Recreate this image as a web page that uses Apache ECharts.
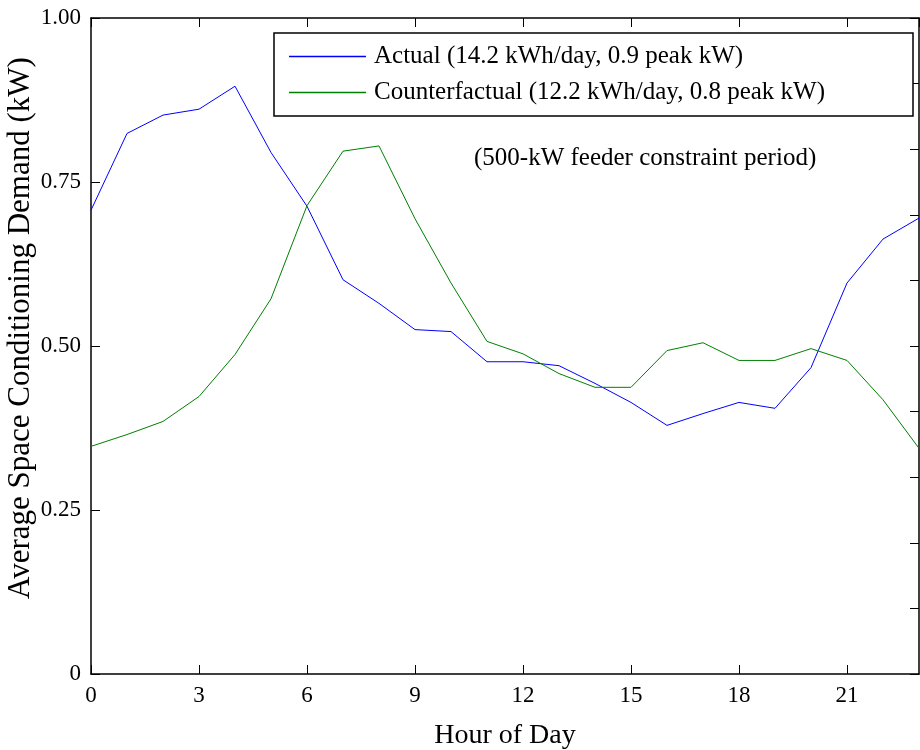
<!DOCTYPE html>
<html>
<head>
<meta charset="utf-8">
<script src="https://cdn.jsdelivr.net/npm/echarts@6/dist/echarts.min.js"></script>
<style>
html,body{margin:0;padding:0;background:#fff;}
#chart{width:920px;height:750px;}
</style>
</head>
<body>
<div id="chart"></div>
<script>
// ---- data ----
var hours = [0,1,2,3,4,5,6,7,8,9,10,11,12,13,14,15,16,17,18,19,20,21,22,23];
var actual = [0.707,0.824,0.852,0.861,0.896,0.795,0.713,0.601,0.565,0.525,0.522,0.476,0.476,0.470,0.443,0.414,0.379,0.397,0.414,0.405,0.467,0.596,0.663,0.695];
var counterfactual = [0.347,0.365,0.385,0.423,0.487,0.572,0.714,0.797,0.805,0.694,0.596,0.507,0.488,0.458,0.437,0.437,0.493,0.505,0.478,0.478,0.496,0.478,0.418,0.344];
var seriesNames = ['Actual (14.2 kWh/day, 0.9 peak kW)', 'Counterfactual (12.2 kWh/day, 0.8 peak kW)'];
var xTickLabels = ['0','3','6','9','12','15','18','21'];
var yTickLabels = ['0','0.25','0.50','0.75','1.00'];
var annotation = '(500-kW feeder constraint period)';
var xTitle = 'Hour of Day';
var yTitle = 'Average Space Conditioning Demand (kW)';

var FONT = 'Liberation Serif';
var chart = echarts.init(document.getElementById('chart'), null, {renderer:'canvas'});

function pairs(vals){ return hours.map(function(h,i){ return [h, vals[i]]; }); }

var axisLineStyle = {color:'#000', width:1.5};
var option = {
  animation: false,
  backgroundColor: '#fff',
  textStyle: {fontFamily: FONT},
  grid: {left: 91, right: 1, top: 18, bottom: 76, containLabel: false, outerBoundsMode: 'none'},
  legend: {
    orient: 'vertical',
    left: 274, top: 33,
    padding: [11, 88, 11, 15],
    itemGap: 11,
    itemWidth: 77, itemHeight: 1.5,
    icon: 'rect',
    itemStyle: {borderWidth: 0},
    borderColor: '#000', borderWidth: 1.5,
    backgroundColor: '#fff',
    textStyle: {fontFamily: FONT, fontSize: 25, color: '#000', padding: [0,0,0,3]},
    data: seriesNames
  },
  xAxis: [{
    type: 'value', min: 0, max: 23, interval: 3,
    name: xTitle, nameLocation: 'middle', nameGap: 48, nameMoveOverlap: false,
    nameTextStyle: {fontFamily: FONT, fontSize: 28, color: '#000'},
    axisLine: {show: true, onZero: false, lineStyle: axisLineStyle},
    axisTick: {show: true, inside: true, length: 9, lineStyle: {color:'#000', width:1}},
    axisLabel: {show: true, showMaxLabel: false, margin: 10, fontFamily: FONT, fontSize: 23, color: '#000',
      formatter: function(v){ var i = xTickLabels.indexOf(String(v)); return i >= 0 ? xTickLabels[i] : ''; }},
    splitLine: {show: false}
  },{
    type: 'value', min: 0, max: 23, interval: 3, position: 'top',
    axisLine: {show: true, onZero: false, lineStyle: axisLineStyle},
    axisTick: {show: true, inside: true, length: 9, lineStyle: {color:'#000', width:1}},
    axisLabel: {show: false},
    splitLine: {show: false}
  }],
  yAxis: [{
    type: 'value', min: 0, max: 1, interval: 0.25,
    name: yTitle, nameLocation: 'middle', nameGap: 55, nameMoveOverlap: false,
    nameTextStyle: {fontFamily: FONT, fontSize: 31, color: '#000', padding: [0,0,0,36]},
    axisLine: {show: true, onZero: false, lineStyle: axisLineStyle},
    axisTick: {show: true, inside: true, length: 9, lineStyle: {color:'#000', width:1}},
    axisLabel: {margin: 10, fontFamily: FONT, fontSize: 23, color: '#000',
      formatter: function(v){ return yTickLabels[Math.round(v / 0.25)]; }},
    splitLine: {show: false}
  },{
    type: 'value', min: 0, max: 1, interval: 0.1, position: 'right',
    axisLine: {show: true, onZero: false, lineStyle: axisLineStyle},
    axisTick: {show: true, inside: true, length: 9, lineStyle: {color:'#000', width:1}},
    axisLabel: {show: false},
    splitLine: {show: false}
  }],
  series: [{
    name: seriesNames[0], type: 'line', data: pairs(actual),
    xAxisIndex: 0, yAxisIndex: 0,
    symbol: 'none', showSymbol: false,
    lineStyle: {color: '#0000ff', width: 1},
    itemStyle: {color: '#0000ff'}
  },{
    name: seriesNames[1], type: 'line', data: pairs(counterfactual),
    xAxisIndex: 0, yAxisIndex: 0,
    symbol: 'none', showSymbol: false,
    lineStyle: {color: '#008000', width: 1},
    itemStyle: {color: '#008000'}
  }],
  graphic: [{
    type: 'text', left: 474, top: 146,
    style: {text: annotation, font: '25px "Liberation Serif"', fill: '#000'}
  }]
};
chart.setOption(option);
</script>
</body>
</html>
